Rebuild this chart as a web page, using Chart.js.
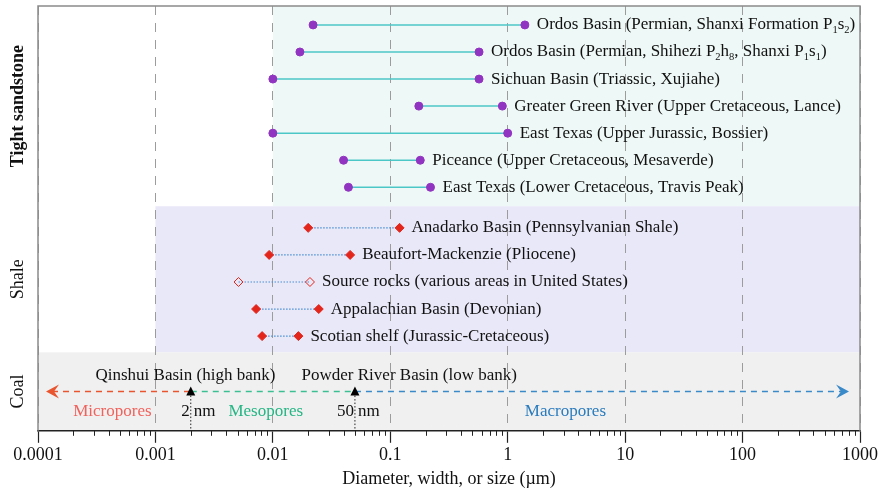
<!DOCTYPE html>
<html>
<head>
<meta charset="utf-8">
<script src="https://cdn.jsdelivr.net/npm/chart.js@4.4.1/dist/chart.umd.min.js"></script>
<style>
  html, body { margin: 0; padding: 0; background: #fff; }
  #wrap { width: 883px; height: 494px; }
</style>
</head>
<body>
<div id="wrap"><canvas id="poreChart"></canvas></div>
<script>
// tick labels of the log axis (µm)
const tickLabels = ['0.0001', '0.001', '0.01', '0.1', '1', '10', '100', '1000'];

// tight sandstone pore-throat ranges (µm)
const sandstoneNames = [
    'Ordos Basin (Permian, Shanxi Formation P_1s_2)',
    'Ordos Basin (Permian, Shihezi P_2h_8, Shanxi P_1s_1)',
    'Sichuan Basin (Triassic, Xujiahe)',
    'Greater Green River (Upper Cretaceous, Lance)',
    'East Texas (Upper Jurassic, Bossier)',
    'Piceance (Upper Cretaceous, Mesaverde)',
    'East Texas (Lower Cretaceous, Travis Peak)'
];
const sandstoneMin = [0.022, 0.017, 0.01, 0.175, 0.01, 0.04, 0.044];
const sandstoneMax = [1.4, 0.57, 0.57, 0.9, 1.0, 0.18, 0.22];

// shale pore-throat ranges (µm)
const shaleNames = [
    'Anadarko Basin (Pennsylvanian Shale)',
    'Beaufort-Mackenzie (Pliocene)',
    'Source rocks (various areas in United States)',
    'Appalachian Basin (Devonian)',
    'Scotian shelf (Jurassic-Cretaceous)'
];
const shaleMin = [0.02, 0.0093, 0.0051, 0.0072, 0.0081];
const shaleMax = [0.12, 0.0455, 0.0207, 0.0246, 0.0165];
const shaleOpen = [false, false, true, false, false];

// coal: pore size classes and basins
const poreLimits = [0.002, 0.05];
const poreLimitText = [['2', 'nm'], ['50', 'nm']];
const poreClasses = ['Micropores', 'Mesopores', 'Macropores'];
const poreClassAt = [0.00043, 0.0087, 3.1];
const coalSites = ['Qinshui Basin (high bank)', 'Powder River Basin (low bank)'];
const coalSiteAt = [0.0018, 0.145];

// rock groups and where their shaded bands start on the x axis
const groupNames = ['Tight sandstone', 'Shale', 'Coal'];
const bandFrom = [0.01, 0.001, 0.0001];

const FONT = '"Liberation Serif", "Times New Roman", serif';
const bandColors = ['#eef8f6', '#e9e8f8', '#f0f0f0'];
const bandY = [[0, 7.4], [7.4, 12.8], [12.8, 15.7]];
const classColors = ['#f0625c', '#25b584', '#2a7bbd'];
const arrowColors = ['#e8552f', '#3dbf94', '#3a89c8'];

function isDecade(v) {
    const l = Math.log10(v);
    return Math.abs(l - Math.round(l)) < 1e-9;
}

const allTicks = [];
for (let e = -4; e <= 3; e++) {
    for (let m = 1; m <= 9; m++) {
        if (e === 3 && m > 1) break;
        allTicks.push(m * Math.pow(10, e));
    }
}

// datasets
const datasets = [];
sandstoneNames.forEach((name, i) => {
    datasets.push({
        label: name,
        data: [{ x: sandstoneMin[i], y: 0.7 + i }, { x: sandstoneMax[i], y: 0.7 + i }],
        showLine: true,
        borderColor: '#4cc7c8',
        borderWidth: 1.5,
        pointRadius: 4,
        pointBackgroundColor: '#9134c1',
        pointBorderColor: '#9134c1',
        pointBorderWidth: 1
    });
});
shaleNames.forEach((name, i) => {
    datasets.push({
        label: name,
        data: [{ x: shaleMin[i], y: 8.2 + i }, { x: shaleMax[i], y: 8.2 + i }],
        showLine: true,
        borderColor: '#4a8fd4',
        borderWidth: 1.2,
        borderDash: [1.5, 1.5],
        pointStyle: 'rectRot',
        pointRadius: 4.5,
        pointBackgroundColor: shaleOpen[i] ? 'rgba(0,0,0,0)' : '#e3261c',
        pointBorderColor: '#e3261c',
        pointBorderWidth: 1
    });
});

// draws text with "_x" as subscript
function richText(ctx, str, x, y, size) {
    const parts = str.split(/_(\w)/);
    ctx.textAlign = 'left';
    ctx.textBaseline = 'middle';
    parts.forEach((p, i) => {
        const sub = i % 2 === 1;
        ctx.font = (sub ? size * 0.62 : size) + 'px ' + FONT;
        ctx.fillText(p, x, sub ? y + size * 0.3 : y);
        x += ctx.measureText(p).width;
    });
}

const bandsPlugin = {
    id: 'bands',
    beforeDraw(chart) {
        const { ctx, chartArea: a, scales: { x, y } } = chart;
        ctx.save();
        bandFrom.forEach((from, i) => {
            const x0 = x.getPixelForValue(from);
            const y0 = y.getPixelForValue(bandY[i][0]);
            const y1 = y.getPixelForValue(bandY[i][1]);
            ctx.fillStyle = bandColors[i];
            ctx.fillRect(x0, y0, a.right - x0, y1 - y0);
        });
        ctx.restore();
    }
};

const labelsPlugin = {
    id: 'rowLabels',
    afterDatasetsDraw(chart) {
        const { ctx, scales: { x, y } } = chart;
        ctx.save();
        ctx.fillStyle = '#111';
        chart.data.datasets.forEach(ds => {
            const end = ds.data[1];
            richText(ctx, ds.label, x.getPixelForValue(end.x) + 12, y.getPixelForValue(end.y), 17);
        });
        ctx.restore();
    }
};

const coalPlugin = {
    id: 'coal',
    afterDatasetsDraw(chart) {
        const { ctx, chartArea: a, scales: { x, y } } = chart;
        const ay = y.getPixelForValue(14.25);
        const left = a.left + 8, right = a.right - 11;
        const cuts = [left, x.getPixelForValue(poreLimits[0]), x.getPixelForValue(poreLimits[1]), right];
        ctx.save();
        // dashed arrow in three colours
        ctx.lineWidth = 1.5;
        ctx.setLineDash([6, 5]);
        for (let i = 0; i < 3; i++) {
            ctx.strokeStyle = arrowColors[i];
            ctx.beginPath();
            ctx.moveTo(i === 0 ? cuts[0] + 6 : cuts[i], ay);
            ctx.lineTo(i === 2 ? cuts[3] - 6 : cuts[i + 1], ay);
            ctx.stroke();
        }
        ctx.setLineDash([]);
        // arrow heads
        ctx.fillStyle = arrowColors[0];
        ctx.beginPath();
        ctx.moveTo(left, ay); ctx.lineTo(left + 13, ay - 7); ctx.lineTo(left + 8, ay); ctx.lineTo(left + 13, ay + 7);
        ctx.closePath(); ctx.fill();
        ctx.fillStyle = arrowColors[2];
        ctx.beginPath();
        ctx.moveTo(right, ay); ctx.lineTo(right - 13, ay - 7); ctx.lineTo(right - 8, ay); ctx.lineTo(right - 13, ay + 7);
        ctx.closePath(); ctx.fill();

        // pore limit markers
        poreLimits.forEach((v, i) => {
            const px = x.getPixelForValue(v);
            ctx.strokeStyle = '#222';
            ctx.lineWidth = 1;
            ctx.setLineDash([1.5, 2]);
            ctx.beginPath();
            ctx.moveTo(px, ay + 4); ctx.lineTo(px, a.bottom);
            ctx.stroke();
            ctx.setLineDash([]);
            ctx.fillStyle = '#000';
            ctx.beginPath();
            ctx.moveTo(px, ay - 5); ctx.lineTo(px + 4.5, ay + 4); ctx.lineTo(px - 4.5, ay + 4);
            ctx.closePath(); ctx.fill();

            const ly = y.getPixelForValue(15.0);
            ctx.font = '17px ' + FONT;
            ctx.textBaseline = 'middle';
            ctx.fillStyle = '#111';
            ctx.textAlign = 'right';
            ctx.fillText(poreLimitText[i][0], px - 1, ly);
            ctx.textAlign = 'left';
            ctx.fillText(poreLimitText[i][1], px + 3, ly);
        });

        // class names and basins
        ctx.font = '17px ' + FONT;
        ctx.textAlign = 'center';
        ctx.textBaseline = 'middle';
        poreClasses.forEach((name, i) => {
            ctx.fillStyle = classColors[i];
            ctx.fillText(name, x.getPixelForValue(poreClassAt[i]), y.getPixelForValue(15.0));
        });
        ctx.fillStyle = '#111';
        coalSites.forEach((name, i) => {
            ctx.fillText(name, x.getPixelForValue(coalSiteAt[i]), y.getPixelForValue(13.65));
        });
        ctx.restore();
    }
};

const framePlugin = {
    id: 'frame',
    afterDraw(chart) {
        const { ctx, chartArea: a, scales: { x, y } } = chart;
        ctx.save();
        // minor ticks
        ctx.strokeStyle = '#222';
        ctx.lineWidth = 1;
        x.ticks.forEach(t => {
            if (isDecade(t.value)) return;
            const px = Math.round(x.getPixelForValue(t.value)) + 0.5;
            ctx.beginPath();
            ctx.moveTo(px, a.bottom);
            ctx.lineTo(px, a.bottom + 5);
            ctx.stroke();
        });
        // gray frame
        ctx.strokeStyle = '#8a8a8a';
        ctx.lineWidth = 1.5;
        ctx.beginPath();
        ctx.moveTo(a.left, a.bottom);
        ctx.lineTo(a.left, a.top);
        ctx.lineTo(a.right, a.top);
        ctx.lineTo(a.right, a.bottom);
        ctx.stroke();
        // group names on the left
        ctx.fillStyle = '#111';
        ctx.textAlign = 'center';
        ctx.textBaseline = 'middle';
        groupNames.forEach((name, i) => {
            const cy = (y.getPixelForValue(bandY[i][0]) + y.getPixelForValue(bandY[i][1])) / 2;
            ctx.save();
            ctx.translate(18, cy);
            ctx.rotate(-Math.PI / 2);
            ctx.font = (i === 0 ? 'bold ' : '') + '18px ' + FONT;
            ctx.fillText(name, 0, 0);
            ctx.restore();
        });
        ctx.restore();
    }
};

new Chart(document.getElementById('poreChart'), {
    type: 'scatter',
    data: { datasets: datasets },
    options: {
        responsive: true,
        maintainAspectRatio: false,
        animation: false,
        layout: { padding: { left: 38, right: 23, top: 6, bottom: 0 } },
        plugins: { legend: { display: false }, tooltip: { enabled: false } },
        scales: {
            x: {
                type: 'logarithmic',
                min: 0.0001,
                max: 1000,
                afterBuildTicks: scale => {
                    scale.ticks = allTicks.map(v => ({ value: v, major: isDecade(v) }));
                },
                ticks: {
                    autoSkip: false,
                    maxRotation: 0,
                    padding: 2,
                    color: '#111',
                    font: { family: FONT, size: 18 },
                    callback: v => isDecade(v) ? tickLabels[Math.round(Math.log10(v)) + 4] : ''
                },
                grid: {
                    color: c => (c.tick && isDecade(c.tick.value)) ? '#9c9c9c' : 'rgba(0,0,0,0)',
                    lineWidth: 1,
                    tickLength: 12,
                    tickColor: c => (c.tick && isDecade(c.tick.value)) ? '#222' : 'rgba(0,0,0,0)',
                    tickWidth: 1.2,
                    tickBorderDash: []
                },
                border: { color: '#222', width: 1.5, dash: [9, 8] },
                title: {
                    display: true,
                    text: 'Diameter, width, or size (µm)',
                    color: '#111',
                    font: { family: FONT, size: 18 },
                    padding: { top: 0, bottom: 4 }
                }
            },
            y: {
                display: false,
                min: 0,
                max: 15.7,
                reverse: true
            }
        }
    },
    plugins: [bandsPlugin, labelsPlugin, coalPlugin, framePlugin]
});
</script>
</body>
</html>
